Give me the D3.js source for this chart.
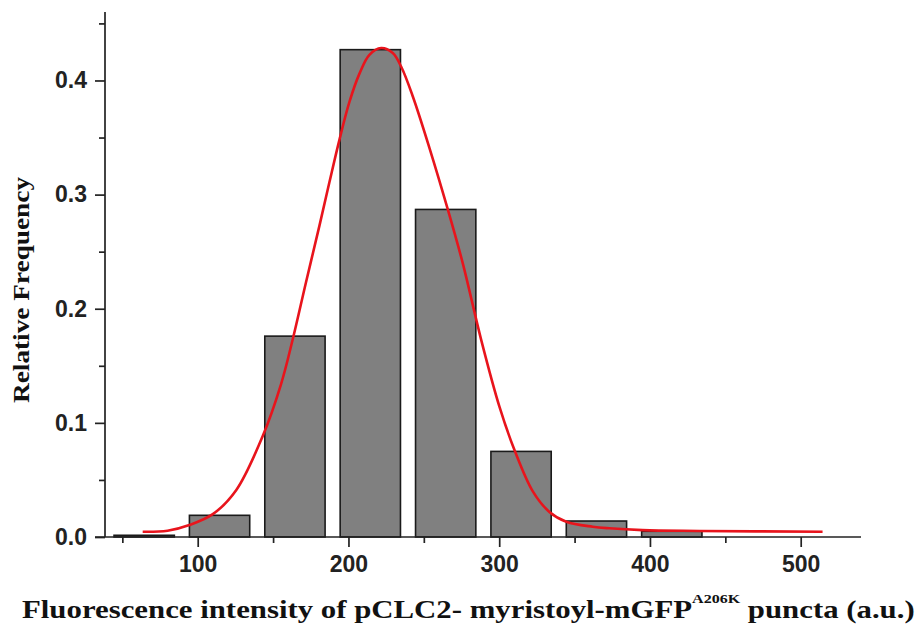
<!DOCTYPE html>
<html>
  <head>
    <meta charset="utf-8">
    <style>
    body {margin:0; background:white;}
    svg {background:white; display:block;}
    .axis text {font-family: "Liberation Sans", Arial, sans-serif; font-weight: bold; font-size: 23px; fill: #222;}
    .axis line {stroke: #222; stroke-width: 1.7px;}
    .axis path {display: none;}
    .title {font-family: "Liberation Serif", "Times New Roman", serif; font-weight: bold; fill: #111;}
    </style>
  </head>
  <body>
    <div id="chart"></div>
    <script src="https://cdn.jsdelivr.net/npm/d3@7"></script>
    <script>

  // histogram bins (bin centre, relative frequency)
  var binCenters = [64.5, 114.5, 164.5, 214.5, 264.5, 314.5, 364.5, 414.5];
  var frequencies = [0.0015, 0.019, 0.176, 0.427, 0.287, 0.075, 0.014, 0.005];

  // gaussian fit curve
  var fitX = [63.5, 80, 94.5, 110, 125.5, 143, 155.3, 163, 171.8, 180.8, 187.4, 194, 200.6, 207.3, 213.9,
              221.7, 229.4, 235, 242.7, 253.7, 265.9, 275.8, 288, 300.2, 310.2, 322.3, 333.3, 344.5,
              362, 373, 395, 433, 514.5];
  var fitY = [0.0046, 0.0055, 0.0105, 0.020, 0.041, 0.088, 0.134, 0.173, 0.223, 0.273, 0.311, 0.348, 0.381, 0.406, 0.4225,
              0.4284, 0.424, 0.412, 0.386, 0.341, 0.287, 0.240, 0.173, 0.114, 0.076, 0.040, 0.022, 0.0134,
              0.009, 0.0076, 0.006, 0.0053, 0.0046];

  var xMajor = [100, 200, 300, 400, 500];
  var xMinor = [50, 150, 250, 350, 450];
  var yMajor = [0, 0.1, 0.2, 0.3, 0.4];
  var yMinor = [0.05, 0.15, 0.25, 0.35, 0.45];

  var binWidth = 40;

  var width = 920, height = 632;

  var svg = d3.select("#chart")
    .append("svg")
    .attr("width", width)
    .attr("height", height);

  var x = d3.scaleLinear().domain([38.5, 540]).range([105, 861]);
  var y = d3.scaleLinear().domain([0, 0.46]).range([537, 12]);

  // bars
  svg.append("g")
    .selectAll("rect")
    .data(binCenters)
    .enter().append("rect")
    .attr("x", function(d) { return x(d - binWidth / 2); })
    .attr("width", function(d) { return x(d + binWidth / 2) - x(d - binWidth / 2); })
    .attr("y", function(d, i) { return y(frequencies[i]); })
    .attr("height", function(d, i) { return y(0) - y(frequencies[i]); })
    .attr("fill", "#808080")
    .attr("stroke", "#1a1a1a")
    .attr("stroke-width", 1.6);

  // axes
  var gx = svg.append("g").attr("class", "axis").attr("transform", "translate(0," + y(0) + ")");
  gx.call(d3.axisBottom(x).tickValues(xMajor).tickSize(10).tickPadding(9).tickFormat(d3.format("d")));
  gx.append("g").call(d3.axisBottom(x).tickValues(xMinor).tickSize(6).tickFormat(""));
  gx.append("line")
    .attr("x1", x.range()[0] - 10).attr("x2", x.range()[1]);

  var gy = svg.append("g").attr("class", "axis").attr("transform", "translate(" + x.range()[0] + ",0)");
  gy.call(d3.axisLeft(y).tickValues(yMajor).tickSize(10).tickPadding(8).tickFormat(d3.format(".1f")));
  gy.append("g").call(d3.axisLeft(y).tickValues(yMinor).tickSize(6).tickFormat(""));
  gy.append("line")
    .attr("y1", y.range()[1]).attr("y2", y(0));

  // fit curve
  var line = d3.line()
    .x(function(d) { return x(d[0]); })
    .y(function(d) { return y(d[1]); })
    .curve(d3.curveCatmullRom);

  svg.append("path")
    .datum(d3.zip(fitX, fitY))
    .attr("d", line)
    .attr("fill", "none")
    .attr("stroke", "#e8141c")
    .attr("stroke-width", 2.6);

  // titles
  svg.append("text")
    .attr("class", "title")
    .attr("transform", "translate(29,290) rotate(-90)")
    .attr("text-anchor", "middle")
    .attr("font-size", "23px")
    .attr("textLength", 226)
    .attr("lengthAdjust", "spacingAndGlyphs")
    .text("Relative Frequency");

  var xt = svg.append("g");
  var xtitle = xt.append("text")
    .attr("class", "title")
    .attr("x", 0)
    .attr("y", 618)
    .attr("font-size", "25px");
  xtitle.append("tspan").text("Fluorescence intensity of pCLC2- myristoyl-mGFP");
  xtitle.append("tspan").attr("font-size", "13px").attr("dy", -15).text("A206K");
  xtitle.append("tspan").attr("dy", 15).text(" puncta (a.u.)");

  var w = xtitle.node().getComputedTextLength();
  xt.attr("transform", "translate(22,0) scale(" + (893 / w) + ",1)");

    </script>
  </body>
</html>
